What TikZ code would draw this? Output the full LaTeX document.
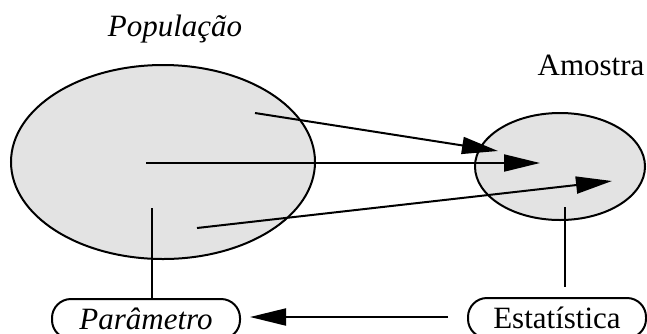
\documentclass[tikz,border=0pt]{standalone}
\usepackage{fontspec}
\setmainfont{Liberation Serif}
\usetikzlibrary{arrows.meta}
\begin{document}
\begin{tikzpicture}[x=1pt,y=-1pt,
  region/.style={draw=black,line width=2pt,fill=gray!22},
  term/.style={draw=black,line width=2pt,rounded corners=19pt,fill=white,
    font=\fontsize{31}{36}\selectfont,text height=21pt,text depth=0pt,inner sep=0pt,minimum height=40pt},
  conn/.style={line width=2pt},
  arr/.style={conn,-{Triangle[length=36pt,width=17pt]}},
  title/.style={font=\fontsize{31}{36}\selectfont,anchor=base,inner sep=0pt}]
\useasboundingbox (0,0) rectangle (647,333);
\clip (0,0) rectangle (647,333);
% regions
\draw[region] (163,162) ellipse [x radius=152, y radius=97];
\draw[region] (560,166.5) ellipse [x radius=85, y radius=53.5];
% titles
\node[title,font=\fontsize{31}{36}\selectfont\itshape] (pop) at (175,36) {População};
\node[title] (amo) at (591,75) {Amostra};
% terminal nodes
\node[term,minimum width=188pt,font=\fontsize{31}{36}\selectfont\itshape] (par) at (146,319) {Parâmetro};
\node[term,minimum width=178pt] (est) at (557,318) {Estatística};
% coordinates
\coordinate (s1) at (255,113);
\coordinate (t1) at (498,151);
\coordinate (s2) at (146,163);
\coordinate (t2) at (540,163);
\coordinate (s3) at (197,228);
\coordinate (t3) at (612,181);
\coordinate (p1) at (152,208);
\coordinate (e1) at (565,207);
\coordinate (e2) at (565,287);
\coordinate (h1) at (448,317);
\coordinate (h2) at (250,317);
% arrows
\draw[arr] (s1) -- (t1);
\draw[arr] (s2) -- (t2);
\draw[arr] (s3) -- (t3);
\draw[conn] (p1) -- (p1 |- par.north);
\draw[conn] (e1) -- (e2);
\draw[arr] (h1) -- (h2);
\end{tikzpicture}
\end{document}
